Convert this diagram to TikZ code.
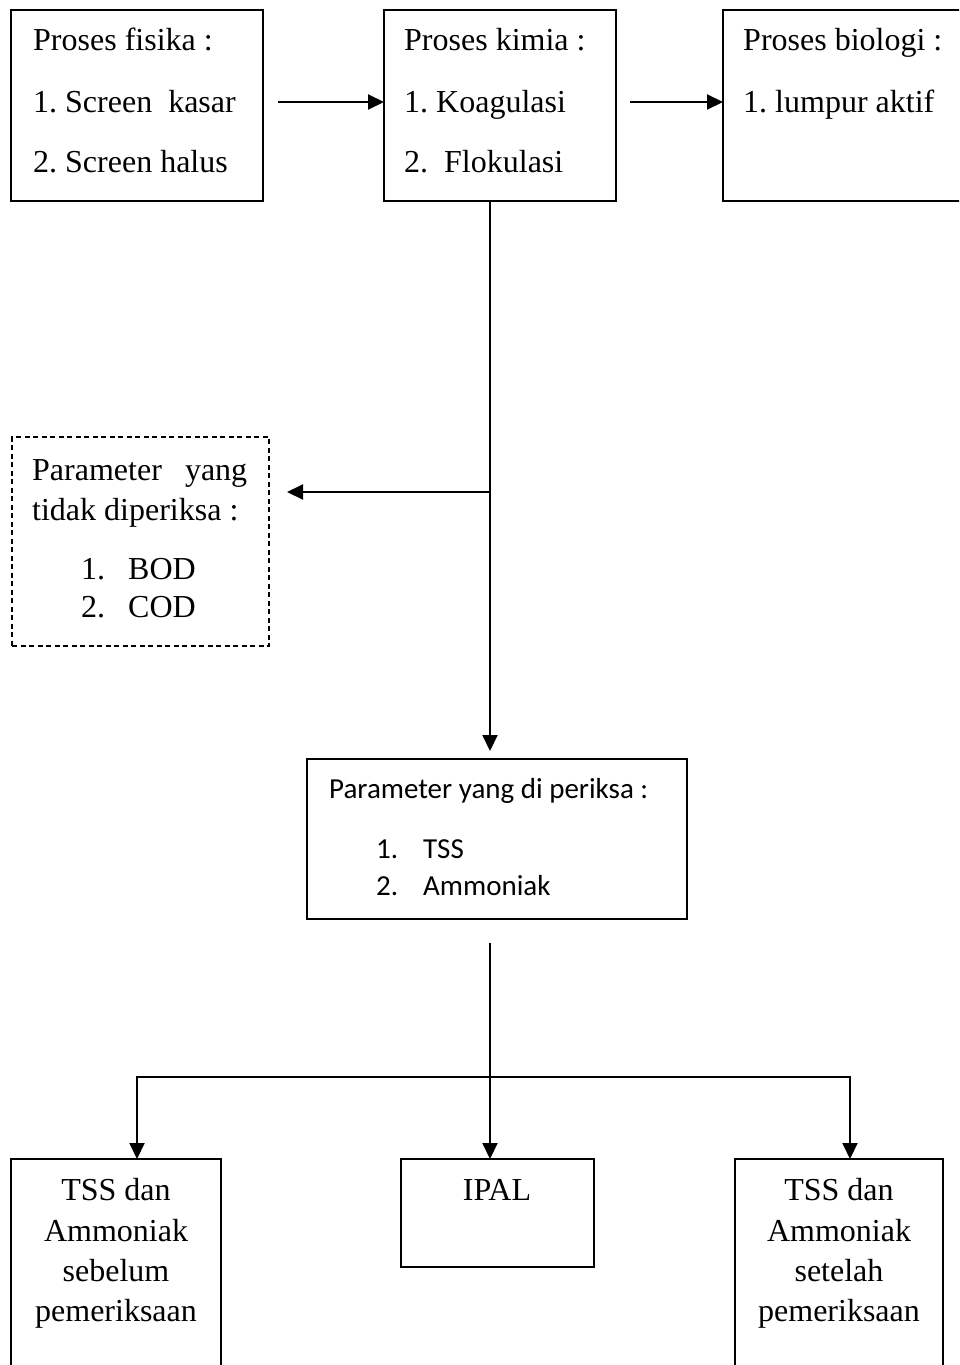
\documentclass[tikz,border=0pt]{standalone}
\usepackage{fontspec}
\setmainfont{Liberation Serif}
\newfontfamily\calib{Carlito}
\usetikzlibrary{arrows.meta}
\frenchspacing
\begin{document}
\begin{tikzpicture}[x=1pt,y=-1pt,
  box/.style={draw,line width=1.6pt,rectangle,anchor=north west,inner sep=0pt,outer sep=0pt},
  dbox/.style={box,dash pattern=on 5pt off 3.5pt,line width=1.3pt},
  txt/.style={anchor=base west,inner sep=0pt,font=\fontsize{32}{38}\selectfont},
  ctxt/.style={anchor=base,inner sep=0pt,font=\fontsize{32}{38}\selectfont},
  ctx/.style={anchor=base west,inner sep=0pt,font=\calib\fontsize{29}{35}\selectfont},
  conn/.style={line width=2pt,line cap=rect},
  arr/.style={line width=2pt,-{Triangle[length=16pt,width=15pt]}}]
\useasboundingbox (0,0) rectangle (959,1365);
\clip (0,0) rectangle (959,1365);
% boxes
\node[box,minimum width=252pt,minimum height=191pt] (b1) at (11,10) {};
\node[box,minimum width=232pt,minimum height=191pt] (b2) at (384,10) {};
\node[box,minimum width=300pt,minimum height=191pt] (b3) at (723,10) {};
\node[dbox,minimum width=257pt,minimum height=209pt] (nb) at (12,437) {};
\node[box,minimum width=380pt,minimum height=160pt] (pb) at (307,759) {};
\node[box,minimum width=210pt,minimum height=300pt] (bl) at (11,1159) {};
\node[box,minimum width=193pt,minimum height=108pt] (ipal) at (401,1159) {};
\node[box,minimum width=208pt,minimum height=300pt] (br) at (735,1159) {};
% texts top
\node[txt] (t11) at (33,50) {Proses fisika :};
\node[txt] (t12) at (33,112) {1. Screen\ \ kasar};
\node[txt] (t13) at (33,172) {2. Screen halus};
\node[txt] (t21) at (404,50) {Proses kimia :};
\node[txt] (t22) at (404,112) {1. Koagulasi};
\node[txt] (t23) at (404,172) {2.\ \ Flokulasi};
\node[txt] (t31) at (743,50) {Proses biologi :};
\node[txt] (t32) at (743,112) {1. lumpur aktif};
% dashed box text
\node[txt] (n1) at (32,480) {\makebox[215pt][s]{Parameter yang}};
\node[txt] (n2) at (32,520) {tidak diperiksa :};
\node[txt] (n3a) at (81,579) {1.};
\node[txt] (n3b) at (128,579) {BOD};
\node[txt] (n4a) at (81,617) {2.};
\node[txt] (n4b) at (128,617) {COD};
% param box text
\node[ctx] (p1) at (329,798) {Parameter yang di periksa :};
\node[ctx] (p2a) at (376,858) {1.};
\node[ctx] (p2b) at (423,858) {TSS};
\node[ctx] (p3a) at (376,895) {2.};
\node[ctx] (p3b) at (423,895) {Ammoniak};
% bottom texts
\node[ctxt] (l1) at (116,1200) {TSS dan};
\node[ctxt] (l2) at (116,1241) {Ammoniak};
\node[ctxt] (l3) at (116,1281) {sebelum};
\node[ctxt] (l4) at (116,1321) {pemeriksaan};
\node[ctxt] (i1) at (497,1200) {IPAL};
\node[ctxt] (r1) at (839,1200) {TSS dan};
\node[ctxt] (r2) at (839,1241) {Ammoniak};
\node[ctxt] (r3) at (839,1281) {setelah};
\node[ctxt] (r4) at (839,1321) {pemeriksaan};
% connectors
\coordinate (a1s) at (278,102);
\draw[arr] (a1s) -- (a1s -| b2.west);
\coordinate (a2s) at (630,102);
\draw[arr] (a2s) -- (a2s -| b3.west);
\coordinate (v0) at (490,201);
\coordinate (v1) at (490,751);
\draw[arr] (v0) -- (v1);
\coordinate (br0) at (490,492);
\coordinate (br1) at (287,492);
\draw[arr] (br0) -- (br1);
\coordinate (p0) at (490,943);
\draw[arr] (p0) -- (p0 |- ipal.north);
\coordinate (h0) at (137,1077);
\coordinate (h1) at (850,1077);
\draw[conn] (h0) -- (h1);
\draw[arr] (h0) -- (h0 |- bl.north);
\draw[arr] (h1) -- (h1 |- br.north);
\end{tikzpicture}
\end{document}
